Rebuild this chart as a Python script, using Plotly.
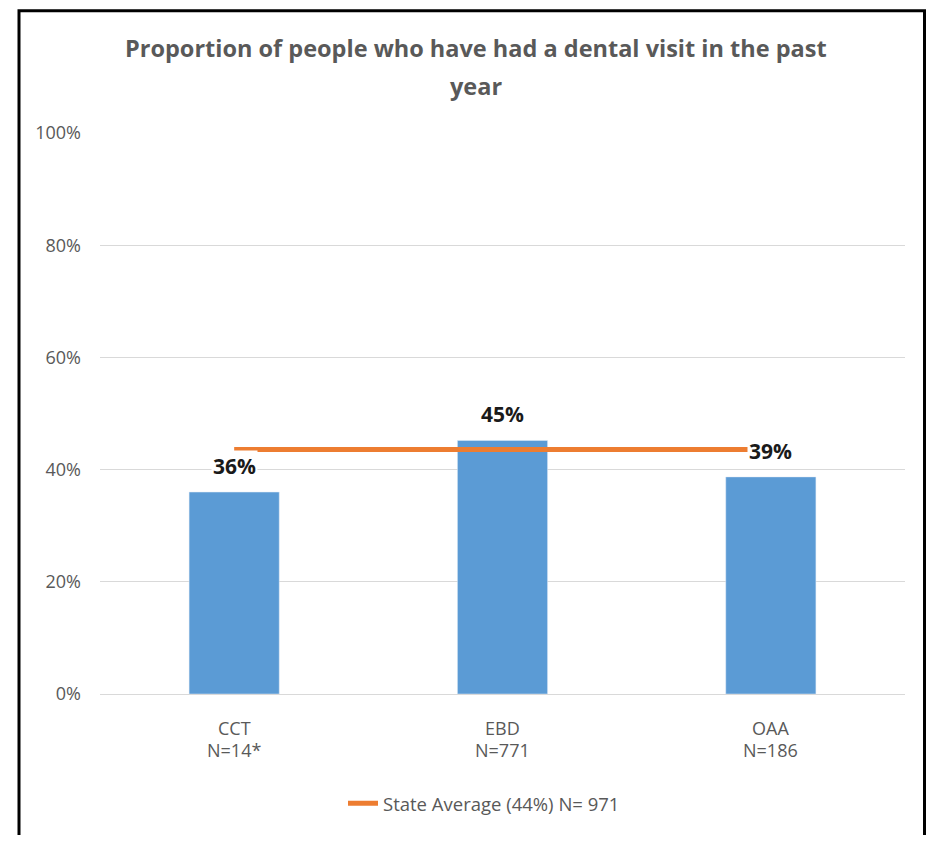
import plotly.graph_objects as go

categories = ["CCT", "EBD", "OAA"]
sample_sizes = ["N=14*", "N=771", "N=186"]
values = [36, 45.2, 38.7]
value_labels = ["36%", "45%", "39%"]
state_average = [43.6, 43.6, 43.6]
state_label = "State Average (44%) N= 971"
title_lines = ["Proportion of people who have had a dental visit in the past", "year"]
y_ticks = [0, 20, 40, 60, 80, 100]
y_tick_labels = ["0%", "20%", "40%", "60%", "80%", "100%"]

OFF = 8      # page body margin
W, H = 934 - 2 * OFF, 843 - 2 * OFF

def fy(p):
    # page y -> figure y (pixels from figure top)
    return p - OFF

L, R = 100 - OFF, 29 - OFF
T = fy(133)
B = H - fy(700)
pw, ph = W - L - R, H - T - B

def px_x(p):
    return (p - OFF - L) / pw

def px_y(p):
    return (H - B - fy(p)) / ph

GRAY = "#595959"
FONT = "Open Sans, sans-serif"

fig = go.Figure()
fig.add_trace(go.Bar(x=categories, y=values, width=0.336, marker_color="#5b9bd5",
                     showlegend=False, hoverinfo="skip"))
fig.add_trace(go.Scatter(x=categories, y=state_average, mode="lines", name=state_label,
                         line=dict(color="#ed7d31", width=5)))

annotations = []
for c, v, lab in zip(categories, values, value_labels):
    annotations.append(dict(x=c, y=v, xref="x", yref="y", text=lab, showarrow=False,
                            yanchor="middle", yshift=26, bgcolor="white", borderpad=1,
                            font=dict(size=21, color="#1a1a1a", family=FONT, weight="bold")))
for c, n in zip(categories, sample_sizes):
    annotations.append(dict(x=c, y=px_y(734), xref="x", yref="paper", text=c, showarrow=False,
                            yanchor="middle", font=dict(size=18, color=GRAY, family=FONT)))
    annotations.append(dict(x=c, y=px_y(757), xref="x", yref="paper", text=n, showarrow=False,
                            yanchor="middle", font=dict(size=18, color=GRAY, family=FONT)))
for t, py in zip(title_lines, [47, 85]):
    annotations.append(dict(x=px_x(476), y=px_y(py), xref="paper", yref="paper", text=t,
                            showarrow=False, yanchor="middle",
                            font=dict(size=23.5, color=GRAY, family=FONT, weight="bold")))

fig.update_layout(
    width=W, height=H,
    margin=dict(l=L, r=R, t=T, b=B),
    paper_bgcolor="white", plot_bgcolor="white",
    font=dict(family=FONT, color=GRAY, size=15),
    xaxis=dict(showticklabels=False, showgrid=False, showline=True, linecolor="#d9d9d9",
               linewidth=1, ticks="", fixedrange=True),
    yaxis=dict(range=[0, 100], tickmode="array", tickvals=y_ticks, ticktext=y_tick_labels,
               showgrid=True, gridcolor="#d9d9d9", gridwidth=1, zeroline=False, ticks="",
               ticklabelstandoff=18, tickfont=dict(size=18, color=GRAY, family=FONT)),
    legend=dict(orientation="h", x=px_x(343), y=px_y(811), xanchor="left", yanchor="middle",
                font=dict(size=18.5, color=GRAY, family=FONT), bgcolor="rgba(0,0,0,0)"),
    annotations=annotations,
    shapes=[dict(type="rect", xref="paper", yref="paper",
                 x0=px_x(19), x1=px_x(924.5), y0=px_y(880), y1=px_y(9.5),
                 line=dict(color="black", width=3), layer="above")],
)

fig.write_html("out.html")
